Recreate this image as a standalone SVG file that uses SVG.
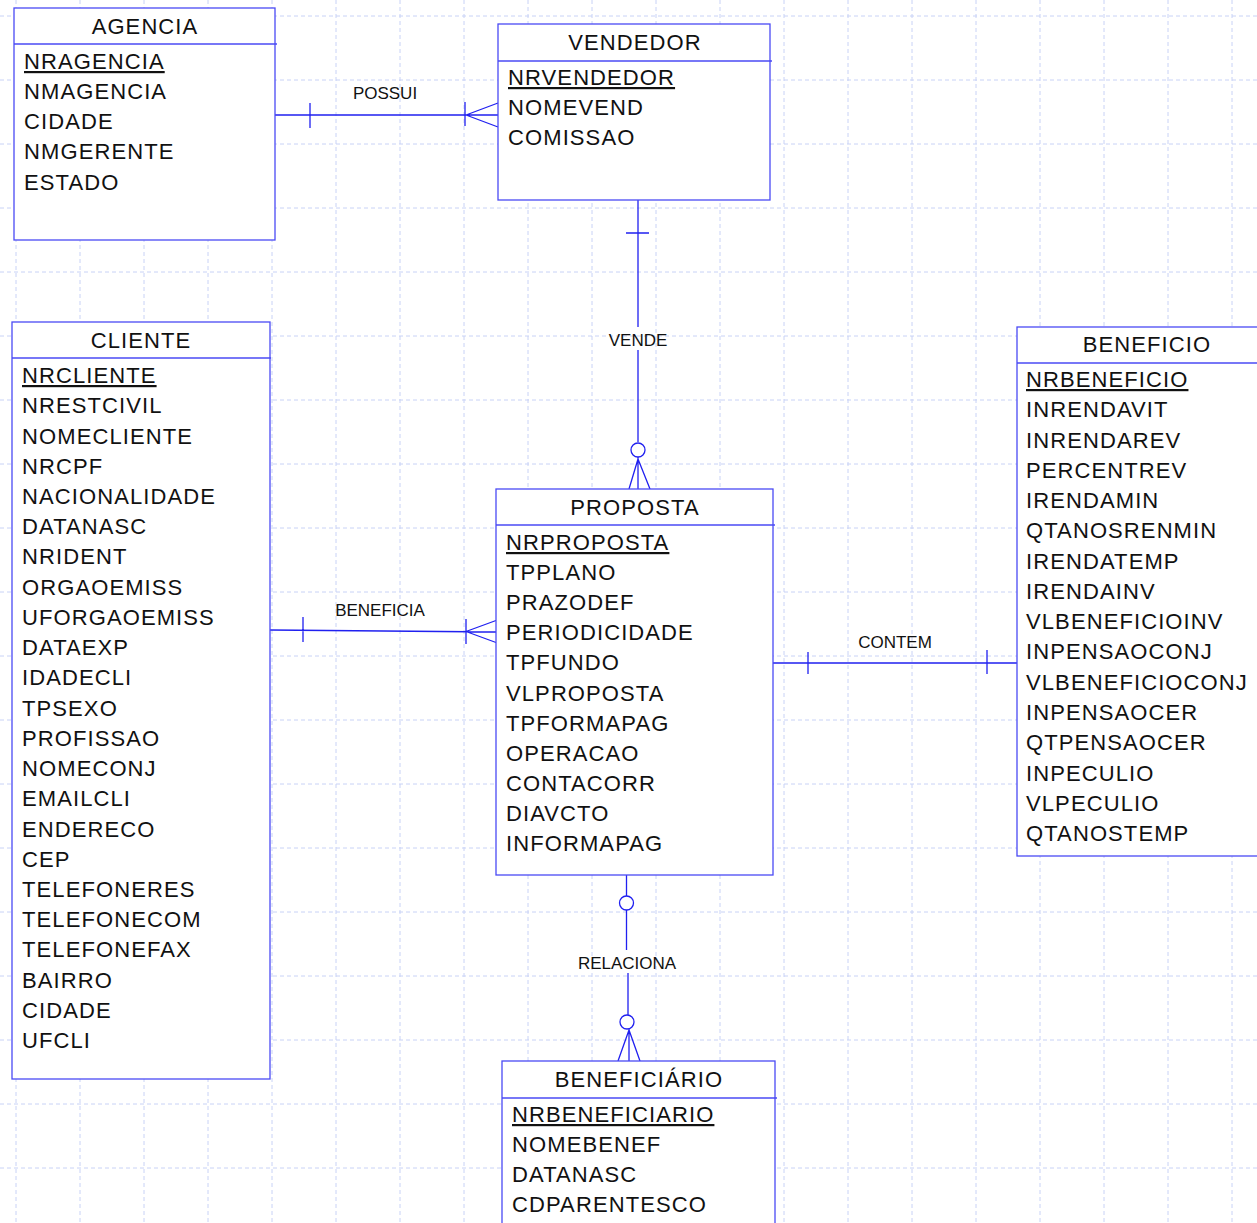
<svg xmlns="http://www.w3.org/2000/svg" width="1257" height="1223" viewBox="0 0 1257 1223">
<style>
.grid{stroke:#c8d2f6;stroke-width:1;stroke-dasharray:4 3;fill:none}
.box{fill:#fff;stroke:#4a4af5;stroke-width:1.3}
.hdr{stroke:#4a4af5;stroke-width:1.3}
.ln{stroke:#2020f0;stroke-width:1.3;fill:none}
.t{font-family:"Liberation Sans",Arial,sans-serif;font-size:22px;letter-spacing:1.1px;fill:#111}
.ttl{text-anchor:middle}
.pk{text-decoration:underline}
.lbl{font-family:"Liberation Sans",Arial,sans-serif;font-size:17px;fill:#111;text-anchor:middle}
</style>
<rect width="1257" height="1223" fill="#fff"/>
<g id="grid">
<path class="grid" d="M16 0V1223M80 0V1223M144 0V1223M208 0V1223M272 0V1223M336 0V1223M400 0V1223M464 0V1223M528 0V1223M592 0V1223M656 0V1223M720 0V1223M784 0V1223M848 0V1223M912 0V1223M976 0V1223M1040 0V1223M1104 0V1223M1168 0V1223M1232 0V1223"/>
<path class="grid" d="M0 16H1257M0 80H1257M0 144H1257M0 208H1257M0 272H1257M0 336H1257M0 400H1257M0 464H1257M0 528H1257M0 592H1257M0 656H1257M0 720H1257M0 784H1257M0 848H1257M0 912H1257M0 976H1257M0 1040H1257M0 1104H1257M0 1168H1257"/>
</g>
<g id="connectors">
<g id="possui">
<path class="ln" d="M275 115H498M310 103V128M465 102V126M466 115L498 103M466 115L498 127"/>
<text class="lbl" x="385" y="99">POSSUI</text>
</g>
<g id="vende">
<path class="ln" d="M638 200V327M638 350V442M626 233H649M638 457V489M638 459L629 489M638 459L650 489"/>
<circle class="ln" cx="638" cy="450" r="7"/>
<text class="lbl" x="638" y="346">VENDE</text>
</g>
<g id="beneficia">
<path class="ln" d="M270 630L497 632M303 617V642M466 619V644M466 631.5L496 620.5M466 631.5L496 642.5"/>
<text class="lbl" x="380" y="616">BENEFICIA</text>
</g>
<g id="contem">
<path class="ln" d="M773 663H1017M808 652V674M987 650V674"/>
<text class="lbl" x="895" y="648">CONTEM</text>
</g>
<g id="relaciona">
<path class="ln" d="M626.5 875V896M626.5 910V950M628 973V1015M629 1029V1061M629 1030L618 1061M629 1030L640 1061"/>
<circle class="ln" cx="626.5" cy="903" r="7"/>
<circle class="ln" cx="627" cy="1022" r="7"/>
<text class="lbl" x="627" y="969">RELACIONA</text>
</g>
</g>
<g id="agencia">
<rect class="box" x="14" y="8" width="261" height="232"/>
<line class="hdr" x1="14" y1="44" x2="277" y2="44"/>
<text class="t ttl" x="145" y="34">AGENCIA</text>
<text class="t pk" x="24" y="69">NRAGENCIA</text>
<text class="t" x="24" y="99">NMAGENCIA</text>
<text class="t" x="24" y="129">CIDADE</text>
<text class="t" x="24" y="159">NMGERENTE</text>
<text class="t" x="24" y="190">ESTADO</text>
</g>
<g id="vendedor">
<rect class="box" x="498" y="24" width="272" height="176"/>
<line class="hdr" x1="498" y1="61" x2="772" y2="61"/>
<text class="t ttl" x="635" y="50">VENDEDOR</text>
<text class="t pk" x="508" y="85">NRVENDEDOR</text>
<text class="t" x="508" y="115">NOMEVEND</text>
<text class="t" x="508" y="145">COMISSAO</text>
</g>
<g id="cliente">
<rect class="box" x="12" y="322" width="258" height="757"/>
<line class="hdr" x1="12" y1="358" x2="271" y2="358"/>
<text class="t ttl" x="141" y="348">CLIENTE</text>
<text class="t pk" x="22" y="383">NRCLIENTE</text>
<text class="t" x="22" y="413.2">NRESTCIVIL</text>
<text class="t" x="22" y="443.5">NOMECLIENTE</text>
<text class="t" x="22" y="473.7">NRCPF</text>
<text class="t" x="22" y="503.9">NACIONALIDADE</text>
<text class="t" x="22" y="534.2">DATANASC</text>
<text class="t" x="22" y="564.4">NRIDENT</text>
<text class="t" x="22" y="594.6">ORGAOEMISS</text>
<text class="t" x="22" y="624.8">UFORGAOEMISS</text>
<text class="t" x="22" y="655.1">DATAEXP</text>
<text class="t" x="22" y="685.3">IDADECLI</text>
<text class="t" x="22" y="715.5">TPSEXO</text>
<text class="t" x="22" y="745.8">PROFISSAO</text>
<text class="t" x="22" y="776">NOMECONJ</text>
<text class="t" x="22" y="806.2">EMAILCLI</text>
<text class="t" x="22" y="836.5">ENDERECO</text>
<text class="t" x="22" y="866.7">CEP</text>
<text class="t" x="22" y="896.9">TELEFONERES</text>
<text class="t" x="22" y="927.1">TELEFONECOM</text>
<text class="t" x="22" y="957.4">TELEFONEFAX</text>
<text class="t" x="22" y="987.6">BAIRRO</text>
<text class="t" x="22" y="1017.8">CIDADE</text>
<text class="t" x="22" y="1048.1">UFCLI</text>
</g>
<g id="proposta">
<rect class="box" x="496" y="489" width="277" height="386"/>
<line class="hdr" x1="496" y1="525" x2="775" y2="525"/>
<text class="t ttl" x="635" y="515">PROPOSTA</text>
<text class="t pk" x="506" y="550">NRPROPOSTA</text>
<text class="t" x="506" y="580.1">TPPLANO</text>
<text class="t" x="506" y="610.2">PRAZODEF</text>
<text class="t" x="506" y="640.3">PERIODICIDADE</text>
<text class="t" x="506" y="670.4">TPFUNDO</text>
<text class="t" x="506" y="700.5">VLPROPOSTA</text>
<text class="t" x="506" y="730.6">TPFORMAPAG</text>
<text class="t" x="506" y="760.7">OPERACAO</text>
<text class="t" x="506" y="790.8">CONTACORR</text>
<text class="t" x="506" y="820.9">DIAVCTO</text>
<text class="t" x="506" y="851">INFORMAPAG</text>
</g>
<g id="beneficio">
<rect class="box" x="1017" y="327" width="270" height="529"/>
<line class="hdr" x1="1017" y1="363" x2="1257" y2="363"/>
<text class="t ttl" x="1147" y="352">BENEFICIO</text>
<text class="t pk" x="1026" y="387">NRBENEFICIO</text>
<text class="t" x="1026" y="417.3">INRENDAVIT</text>
<text class="t" x="1026" y="447.5">INRENDAREV</text>
<text class="t" x="1026" y="477.8">PERCENTREV</text>
<text class="t" x="1026" y="508.1">IRENDAMIN</text>
<text class="t" x="1026" y="538.4">QTANOSRENMIN</text>
<text class="t" x="1026" y="568.6">IRENDATEMP</text>
<text class="t" x="1026" y="598.9">IRENDAINV</text>
<text class="t" x="1026" y="629.2">VLBENEFICIOINV</text>
<text class="t" x="1026" y="659.4">INPENSAOCONJ</text>
<text class="t" x="1026" y="689.7">VLBENEFICIOCONJ</text>
<text class="t" x="1026" y="720">INPENSAOCER</text>
<text class="t" x="1026" y="750.2">QTPENSAOCER</text>
<text class="t" x="1026" y="780.5">INPECULIO</text>
<text class="t" x="1026" y="810.8">VLPECULIO</text>
<text class="t" x="1026" y="841">QTANOSTEMP</text>
</g>
<g id="beneficiario">
<rect class="box" x="502" y="1061" width="273" height="200"/>
<line class="hdr" x1="502" y1="1098" x2="777" y2="1098"/>
<text class="t ttl" x="639" y="1087">BENEFICIÁRIO</text>
<text class="t pk" x="512" y="1122">NRBENEFICIARIO</text>
<text class="t" x="512" y="1152">NOMEBENEF</text>
<text class="t" x="512" y="1182">DATANASC</text>
<text class="t" x="512" y="1212">CDPARENTESCO</text>
</g>
</svg>
